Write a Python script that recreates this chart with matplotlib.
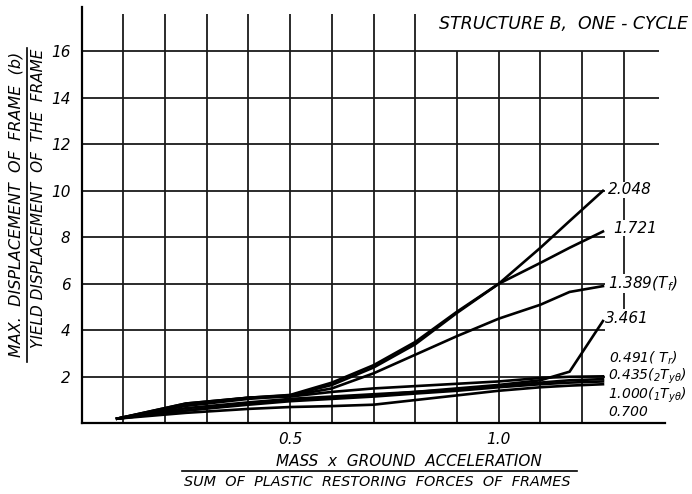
import matplotlib
matplotlib.use("Agg")
import matplotlib.pyplot as plt

plt.rcParams['font.family'] = ['DejaVu Sans']
plt.rcParams['mathtext.default'] = 'regular'

# ---- data ----
x_vals = [0.085, 0.25, 0.40, 0.50, 0.60, 0.70, 0.80, 0.90, 1.00, 1.10, 1.17, 1.25]
y_2048 = [0.20, 0.80, 1.10, 1.20, 1.65, 2.40, 3.40, 4.75, 6.00, 7.55, 8.70, 10.00]
y_1721 = [0.20, 0.85, 1.10, 1.22, 1.75, 2.50, 3.50, 4.80, 6.00, 6.90, 7.55, 8.25]
y_1389 = [0.20, 0.75, 1.05, 1.18, 1.50, 2.15, 2.95, 3.75, 4.50, 5.10, 5.65, 5.90]
y_3461 = [0.20, 0.55, 0.85, 1.00, 1.10, 1.20, 1.35, 1.50, 1.65, 1.85, 2.22, 4.40]
y_0491 = [0.20, 0.85, 1.10, 1.15, 1.35, 1.50, 1.60, 1.70, 1.80, 1.95, 2.00, 2.02]
y_0435 = [0.20, 0.65, 0.90, 1.05, 1.15, 1.25, 1.35, 1.45, 1.60, 1.75, 1.85, 1.90]
y_1000 = [0.20, 0.55, 0.80, 0.95, 1.05, 1.15, 1.28, 1.40, 1.55, 1.68, 1.75, 1.80]
y_0700 = [0.20, 0.45, 0.62, 0.70, 0.74, 0.80, 1.00, 1.20, 1.40, 1.55, 1.62, 1.68]

series = [y_2048, y_1721, y_1389, y_3461, y_0491, y_0435, y_1000, y_0700]
labels = ["2.048", "1.721", "1.389(T$_f$)", "3.461",
          "0.491( T$_r$)", "0.435($_2$T$_{y\\theta}$)",
          "1.000($_1$T$_{y\\theta}$)", "0.700"]
label_y = [10.04, 8.40, 6.00, 4.50, 2.78, 2.04, 1.19, 0.47]
label_x = [1.262, 1.274, 1.262, 1.255, 1.264, 1.262, 1.262, 1.264]
label_fs = [11, 11, 11, 11, 10, 10, 10, 10]

y_ticks = [2, 4, 6, 8, 10, 12, 14, 16]
x_ticks = [0.5, 1.0]
x_tick_labels = ["0.5", "1.0"]
x_grid = [0.1, 0.2, 0.3, 0.4, 0.5, 0.6, 0.7, 0.8, 0.9, 1.0, 1.1, 1.2]

W, H = 692, 494
fig = plt.figure(figsize=(W / 100, H / 100), dpi=100)
fig.patch.set_facecolor("white")

XMAX, YMAX = 1.40, 17.9
left_px, bot_px = 81.7, 423.3
px_per_x = 417.0
px_per_y = 23.25
ax = fig.add_axes([left_px / W, 1 - bot_px / H,
                   XMAX * px_per_x / W, YMAX * px_per_y / H])
ax.set_xlim(0, XMAX)
ax.set_ylim(0, YMAX)

for s in ["top", "right"]:
    ax.spines[s].set_visible(False)
for s in ["left", "bottom"]:
    ax.spines[s].set_linewidth(1.6)
    ax.spines[s].set_color("black")

gc = "#1a1a1a"
glw = 1.3
# vertical grid lines
for xv in x_grid:
    top = 17.6 if xv < 0.85 else 16.0
    ax.vlines(xv, 0, top, color=gc, lw=glw, zorder=1)
ax.vlines(1.3, 4.9, 16.0, color=gc, lw=glw, zorder=1)
# horizontal grid lines
for yv in y_ticks:
    right = 1.255 if yv <= 10 else 1.385
    ax.hlines(yv, 0, right, color=gc, lw=glw, zorder=1)

# curves
for ys in series:
    ax.plot(x_vals, ys, color="black", lw=1.9, zorder=3, solid_joinstyle="miter")

# curve labels
for lx, ly, lab, fs in zip(label_x, label_y, labels, label_fs):
    if fs >= 11:
        ax.text(lx, ly, lab, fontsize=fs, fontstyle="italic", ha="left",
                va="center", zorder=5,
                bbox=dict(facecolor="white", edgecolor="none", pad=0.3))
    else:
        ax.text(lx, ly, lab, fontsize=fs, fontstyle="italic", ha="left",
                va="center", zorder=5)

ax.set_yticks(y_ticks)
ax.set_yticklabels([str(v) for v in y_ticks], fontsize=11, fontstyle="italic")
ax.set_xticks(x_ticks)
ax.set_xticklabels(x_tick_labels, fontsize=11, fontstyle="italic")
ax.tick_params(length=0, pad=6)
ax.tick_params(axis="y", pad=8)

def fx(px):
    return px / W

def fy(py):
    return 1 - py / H

# title
fig.text(fx(688), fy(24), "STRUCTURE B,  ONE - CYCLE", fontsize=12.5,
         fontstyle="italic", ha="right", va="center")

# x label as a fraction
fig.text(fx(409), fy(461), "MASS  x  GROUND  ACCELERATION", fontsize=11,
         fontstyle="italic", ha="center", va="center")
fig.add_artist(plt.Line2D([fx(182), fx(577)], [fy(471), fy(471)],
                          color="black", lw=1.2))
fig.text(fx(377), fy(482), "SUM  OF  PLASTIC  RESTORING  FORCES  OF  FRAMES",
         fontsize=10.4, fontstyle="italic", ha="center", va="center")

# y label as a fraction
fig.text(fx(16), fy(204), "MAX.  DISPLACEMENT  OF  FRAME  (b)", fontsize=11.5,
         fontstyle="italic", rotation=90, ha="center", va="center")
fig.add_artist(plt.Line2D([fx(27), fx(27)], [fy(362), fy(48)],
                          color="black", lw=1.2))
fig.text(fx(39), fy(198), "YIELD DISPLACEMENT  OF  THE  FRAME", fontsize=11,
         fontstyle="italic", rotation=90, ha="center", va="center")

fig.savefig("out.png", dpi=100, facecolor="white")
